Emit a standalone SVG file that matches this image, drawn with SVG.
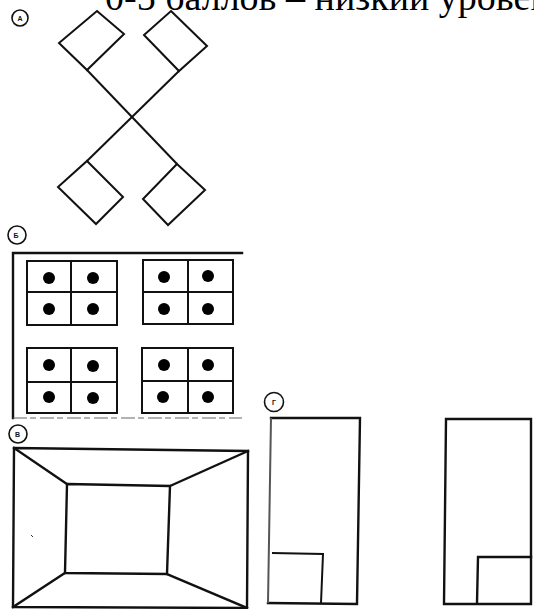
<svg xmlns="http://www.w3.org/2000/svg" width="534" height="609" viewBox="0 0 534 609">
<style>
.ln{fill:none;stroke:#111;stroke-width:2.4;stroke-linejoin:miter;stroke-linecap:square}
.thin{fill:none;stroke:#111;stroke-width:2}
.lbl{fill:none;stroke:#111;stroke-width:1.6}
.lt{font-family:"Liberation Sans",Arial,sans-serif;font-size:7px;font-weight:bold;fill:#111;text-anchor:middle}
.dot{fill:#000}
.title{font-family:"Liberation Serif","Times New Roman",serif;font-size:38px;fill:#000}
</style>
<rect width="534" height="609" fill="#fff"/>
<text class="title" x="105" y="10">0-5 баллов – низкий уровень</text>

<g id="part-a">
  <circle class="lbl" cx="20" cy="18" r="8"/>
  <text class="lt" x="20" y="20.5">А</text>
  <polygon class="thin" points="97,11 124,34 87,70 59,43"/>
  <polygon class="thin" points="171,11 207,46 179,71 144,35"/>
  <polygon class="thin" points="87,161 123,197 96,224 58,187"/>
  <polygon class="thin" points="177,164 205,190 168,225 143,199"/>
  <line class="thin" x1="87" y1="70" x2="177" y2="164"/>
  <line class="thin" x1="179" y1="71" x2="87" y2="161"/>
</g>

<g id="part-b">
  <circle class="lbl" cx="17" cy="235" r="9"/>
  <text class="lt" x="16" y="237.5">Б</text>
  <polyline class="ln" points="242,253 13,253 13,418"/>
  <line x1="13" y1="418" x2="242" y2="418" stroke="#666" stroke-width="1.2" stroke-dasharray="14,3,6,4"/>
  <g id="block-tl">
    <rect class="thin" x="27" y="261" width="90" height="64"/>
    <line class="thin" x1="71" y1="261" x2="71" y2="325"/>
    <line class="thin" x1="27" y1="292" x2="117" y2="292"/>
    <circle class="dot" cx="49" cy="278" r="6"/><circle class="dot" cx="93" cy="278" r="6"/>
    <circle class="dot" cx="49" cy="309" r="6"/><circle class="dot" cx="93" cy="309" r="6"/>
  </g>
  <g id="block-tr">
    <rect class="thin" x="143" y="260" width="90" height="64"/>
    <line class="thin" x1="188" y1="260" x2="188" y2="324"/>
    <line class="thin" x1="143" y1="292" x2="233" y2="292"/>
    <circle class="dot" cx="164" cy="277" r="6"/><circle class="dot" cx="208" cy="276" r="6"/>
    <circle class="dot" cx="164" cy="309" r="6"/><circle class="dot" cx="208" cy="309" r="6"/>
  </g>
  <g id="block-bl">
    <rect class="thin" x="27" y="348" width="90" height="65"/>
    <line class="thin" x1="71" y1="348" x2="71" y2="413"/>
    <line class="thin" x1="27" y1="382" x2="117" y2="382"/>
    <circle class="dot" cx="49" cy="365" r="6"/><circle class="dot" cx="93" cy="366" r="6"/>
    <circle class="dot" cx="49" cy="397" r="6"/><circle class="dot" cx="93" cy="398" r="6"/>
  </g>
  <g id="block-br">
    <rect class="thin" x="142" y="348" width="91" height="65"/>
    <line class="thin" x1="188" y1="348" x2="188" y2="413"/>
    <line class="thin" x1="142" y1="381" x2="233" y2="381"/>
    <circle class="dot" cx="164" cy="365" r="6"/><circle class="dot" cx="208" cy="365" r="6"/>
    <circle class="dot" cx="163" cy="397" r="6"/><circle class="dot" cx="208" cy="397" r="6"/>
  </g>
</g>

<g id="part-v">
  <circle class="lbl" cx="18" cy="434" r="9"/>
  <text class="lt" x="17.5" y="436.5">В</text>
  <polygon class="ln" points="14,448 248,451 247,608 13,607"/>
  <polygon class="ln" points="67,484 170,486 167,574 65,573"/>
  <line class="ln" x1="14" y1="448" x2="67" y2="484"/>
  <line class="ln" x1="248" y1="451" x2="170" y2="486"/>
  <line class="ln" x1="247" y1="608" x2="167" y2="574"/>
  <line class="ln" x1="13" y1="607" x2="65" y2="573"/>
  <line x1="31" y1="535" x2="33" y2="537" stroke="#333" stroke-width="1"/>
</g>

<g id="part-g">
  <circle class="lbl" cx="274" cy="402" r="9.5"/>
  <text class="lt" x="274" y="404.5">Г</text>
  <g id="rect-1">
    <polyline class="ln" points="271,418 360,418 357,604 268,603"/>
    <line x1="271" y1="418" x2="268" y2="603" stroke="#555" stroke-width="2"/>
    <polyline class="thin" points="272,553 323,554 321,603"/>
  </g>
  <g id="rect-2">
    <polygon class="ln" points="446,419 531,419 531,604 444,604"/>
    <polyline class="ln" points="477,603 478,557 531,557"/>
  </g>
</g>
</svg>
